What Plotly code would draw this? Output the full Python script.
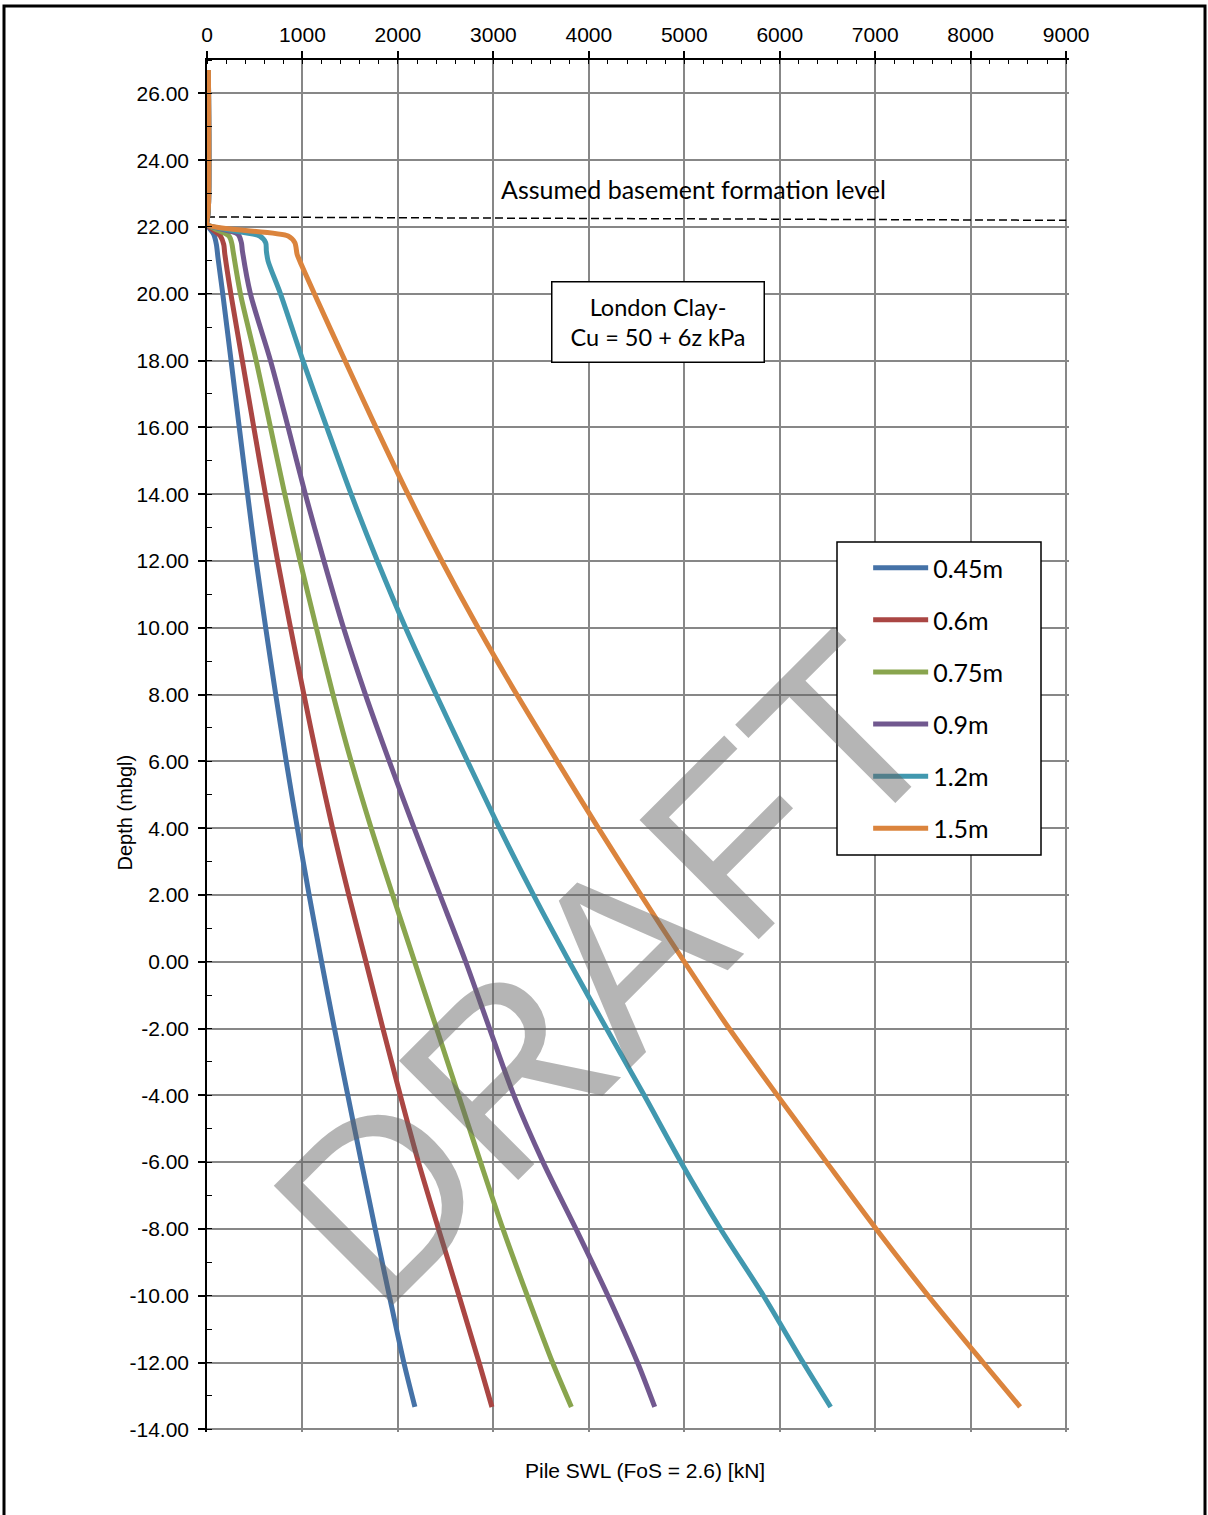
import plotly.graph_objects as go

# ---------------- data ----------------
top_depth = [26.7, 22.6, 22.3, 22.08]
top_swl = [15, 15, 6, 0]

main_depth = [20, 18, 16, 14, 12, 10, 8, 6, 4, 2, 0, -2, -4, -6, -8, -10, -12, -13.33]

d045_knee_depth = [21.78, 21.48, 21.08]
d045_knee_swl = [70, 98, 115]
d045_swl = [165, 252, 338, 425, 515, 615, 720, 830, 947, 1070, 1200, 1335, 1475, 1617, 1762, 1910, 2062, 2178]

d060_knee_depth = [21.73, 21.48, 21.2]
d060_knee_swl = [140, 175, 186]
d060_swl = [250, 370, 490, 612, 740, 875, 1015, 1160, 1315, 1485, 1665, 1843, 2025, 2215, 2425, 2640, 2850, 2985]

d075_knee_depth = [21.73, 21.48, 21.28]
d075_knee_swl = [231, 262, 273]
d075_swl = [350, 515, 665, 815, 975, 1145, 1320, 1510, 1720, 1945, 2175, 2405, 2635, 2865, 3100, 3355, 3620, 3817]

d090_knee_depth = [21.78, 21.53, 21.28]
d090_knee_swl = [325, 360, 371]
d090_swl = [455, 665, 850, 1030, 1225, 1430, 1660, 1910, 2170, 2440, 2710, 2960, 3215, 3520, 3865, 4200, 4510, 4690]

d120_knee_depth = [21.73, 21.53, 21.28, 20.98]
d120_knee_swl = [552, 615, 622, 640]
d120_swl = [770, 1005, 1255, 1510, 1785, 2080, 2400, 2730, 3065, 3420, 3795, 4185, 4580, 4965, 5380, 5830, 6245, 6533]

d150_knee_depth = [21.73, 21.53, 21.18, 20.98]
d150_knee_swl = [850, 920, 944, 972]
d150_swl = [1125, 1445, 1770, 2105, 2460, 2840, 3245, 3670, 4100, 4545, 5000, 5470, 5975, 6490, 7010, 7555, 8130, 8518]

series_names = ["0.45m", "0.6m", "0.75m", "0.9m", "1.2m", "1.5m"]
series_colors = ["#4572A7", "#AA4643", "#89A54E", "#71588F", "#4198AF", "#DB843D"]
knee_depths = [d045_knee_depth, d060_knee_depth, d075_knee_depth, d090_knee_depth, d120_knee_depth, d150_knee_depth]
knee_swls = [d045_knee_swl, d060_knee_swl, d075_knee_swl, d090_knee_swl, d120_knee_swl, d150_knee_swl]
main_swls = [d045_swl, d060_swl, d075_swl, d090_swl, d120_swl, d150_swl]

formation_x = [0, 9000]
formation_y = [22.3, 22.2]

x_ticks = list(range(0, 9001, 1000))
y_ticks = list(range(-14, 27, 2))
y_tick_text = ["%.2f" % v for v in y_ticks]

# ---------------- figure ----------------
fig = go.Figure()

fig.add_trace(go.Scatter(
    x=formation_x, y=formation_y, mode="lines",
    line=dict(color="black", width=1.5, dash="8px,4px"),
    showlegend=False, hoverinfo="skip"))

for name, col, kd, ks, ms in zip(series_names, series_colors, knee_depths, knee_swls, main_swls):
    fig.add_trace(go.Scatter(
        x=top_swl + ks + ms,
        y=top_depth + kd + main_depth,
        mode="lines", name=name, legendgroup=name,
        line=dict(color=col, width=5, shape="spline", smoothing=0.8),
    ))

grid_col = "#878787"
tick_font = dict(family="Liberation Sans, Arial, sans-serif", size=21, color="black")

fig.update_xaxes(
    side="top", range=[0, 9030], tickvals=x_ticks,
    showgrid=True, gridcolor=grid_col, gridwidth=1.5,
    showline=True, linecolor="black", linewidth=1.5,
    ticks="outside", ticklen=7, tickcolor="black", tickwidth=1.5,
    minor=dict(dtick=200, tick0=0, ticks="inside", ticklen=4, tickcolor="black", tickwidth=1.2, showgrid=False),
    tickfont=tick_font, zeroline=False, ticklabelstandoff=1,
)
fig.update_yaxes(
    range=[-14.08, 27], tickvals=y_ticks, ticktext=y_tick_text,
    showgrid=True, gridcolor=grid_col, gridwidth=1.5,
    showline=True, linecolor="black", linewidth=1.5,
    ticks="outside", ticklen=7, tickcolor="black", tickwidth=1.5,
    minor=dict(dtick=1, tick0=0, ticks="inside", ticklen=5, tickcolor="black", tickwidth=1.2, showgrid=False),
    tickfont=tick_font, zeroline=False, ticklabelstandoff=5,
)

calib = "Lato, 'Open Sans', sans-serif"

fig.update_layout(
    width=1208, height=1515,
    margin=dict(l=207, r=139, t=60, b=83, autoexpand=False),
    paper_bgcolor="white", plot_bgcolor="white",
    showlegend=True,
    legend=dict(
        x=0.767, y=0.6465, xanchor="left", yanchor="top",
        bgcolor="rgba(0,0,0,0)", borderwidth=0,
        font=dict(family=calib, size=25, color="black"),
        traceorder="grouped", tracegroupgap=16.6, itemwidth=55,
    ),
    shapes=[
        dict(type="rect", xref="paper", yref="paper",
             x0=(837 - 207) / 862, x1=(1041 - 207) / 862,
             y0=(1432 - 855) / 1372, y1=(1432 - 542) / 1372,
             line=dict(color="black", width=1.5), fillcolor="white", layer="above"),
        dict(type="rect", xref="paper", yref="paper",
             x0=(4 - 207) / 862, x1=(1205 - 207) / 862,
             y0=(1432 - 1530) / 1372, y1=(1432 - 6) / 1372,
             line=dict(color="black", width=3), fillcolor="rgba(0,0,0,0)", layer="above"),
    ],
    annotations=[
        dict(text="Assumed basement formation level", x=5092, y=23.13, xref="x", yref="y",
             showarrow=False, xanchor="center", yanchor="middle",
             font=dict(family=calib, size=25, color="black")),
        dict(text="London Clay-<br>Cu = 50 + 6z kPa", x=4726, y=19.17, xref="x", yref="y",
             showarrow=False, xanchor="center", yanchor="middle",
             width=211, height=79, borderpad=0,
             bordercolor="black", borderwidth=1.5, bgcolor="white",
             font=dict(family=calib, size=23.5, color="black")),
        dict(text="Depth (mbgl)", x=(125 - 207) / 862, y=4.47, xref="paper", yref="y",
             showarrow=False, textangle=-90, xanchor="center", yanchor="middle",
             font=dict(family="Liberation Sans, Arial, sans-serif", size=20, color="black")),
        dict(text="Pile SWL (FoS = 2.6) [kN]", x=4589, y=(1432 - 1470) / 1372, xref="x", yref="paper",
             showarrow=False, xanchor="center", yanchor="middle",
             font=dict(family="Liberation Sans, Arial, sans-serif", size=21, color="black")),
        dict(text="DRAFT", x=4200, y=-0.25, xref="x", yref="y",
             showarrow=False, textangle=-45, xanchor="center", yanchor="middle",
             font=dict(family="Liberation Sans, Arial, sans-serif", size=245, color="rgba(100,100,100,0.48)")),
    ],
)

fig.write_html("out.html")
